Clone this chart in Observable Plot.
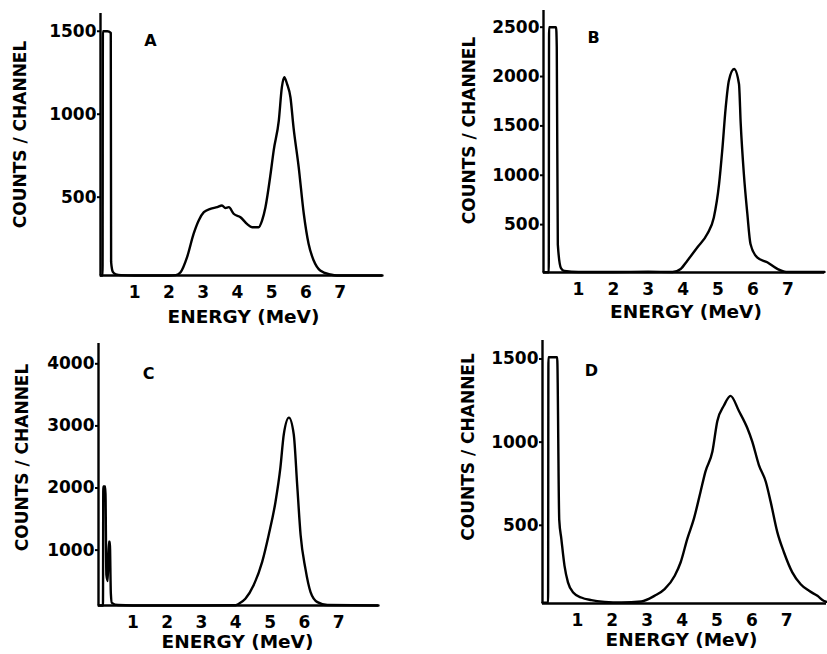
<!DOCTYPE html>
<html><head><meta charset="utf-8">
<script src="https://cdn.jsdelivr.net/npm/d3@7"></script>
<script src="https://cdn.jsdelivr.net/npm/@observablehq/plot@0.6"></script>
<style>
body{margin:0;background:#fff;}
#chart{position:relative;width:827px;height:654px;overflow:hidden;background:#fff;}
.panel{position:absolute;}
</style></head><body><div id="chart"></div>
<script>
// ---- data ----
const panelLetters = ["A", "B", "C", "D"];
const xTicks = [1, 2, 3, 4, 5, 6, 7];
const yTicksA = [500, 1000, 1500];
const yTicksB = [500, 1000, 1500, 2000, 2500];
const yTicksC = [1000, 2000, 3000, 4000];
const yTicksD = [500, 1000, 1500];
const yLabel = "COUNTS / CHANNEL";
const xLabel = "ENERGY (MeV)";

const energyA = [0, 0.06, 0.07, 0.2, 0.3, 0.31, 0.36, 0.45, 0.6, 1.0, 1.5, 2.0, 2.2, 2.34, 2.53, 2.72, 2.87, 3.02, 3.21, 3.41, 3.55, 3.65, 3.75, 3.89, 4.09, 4.28, 4.43, 4.62, 4.72, 4.82, 4.97, 5.06, 5.21, 5.30, 5.37, 5.45, 5.55, 5.64, 5.79, 5.94, 6.08, 6.23, 6.42, 6.72, 6.91, 8.24];
const countsA = [28, 28, 1500, 1500, 1490, 110, 50, 35, 30, 28, 28, 28, 30, 48, 139, 279, 360, 410, 430, 440, 450, 435, 440, 400, 379, 339, 319, 319, 359, 440, 641, 781, 962, 1163, 1223, 1183, 1102, 921, 683, 400, 219, 118, 58, 34, 28, 28];

const energyB = [0, 0.15, 0.16, 0.36, 0.38, 0.41, 0.5, 0.6, 1.0, 2.0, 3.0, 3.7, 3.93, 4.12, 4.41, 4.69, 4.88, 5.03, 5.12, 5.22, 5.31, 5.46, 5.6, 5.65, 5.74, 5.84, 5.93, 6.12, 6.41, 6.70, 6.95, 8.05];
const countsB = [17, 17, 2500, 2500, 2300, 300, 60, 30, 20, 20, 22, 20, 51, 135, 270, 405, 573, 912, 1249, 1688, 1958, 2077, 1925, 1520, 1013, 608, 304, 168, 118, 51, 20, 20];

const energyC = [0, 0.13, 0.14, 0.2, 0.23, 0.27, 0.3, 0.33, 0.36, 0.39, 0.57, 1.0, 2.0, 3.0, 4.0, 4.09, 4.28, 4.52, 4.77, 4.96, 5.16, 5.30, 5.40, 5.55, 5.69, 5.79, 5.89, 6.03, 6.18, 6.38, 6.67, 8.16];
const countsC = [108, 108, 2027, 2027, 600, 500, 1135, 1135, 300, 150, 115, 108, 108, 108, 112, 135, 216, 433, 810, 1243, 1783, 2323, 2864, 3133, 2864, 2053, 1243, 702, 324, 162, 115, 108];

const energyD = [0, 0.16, 0.17, 0.42, 0.48, 0.54, 0.63, 0.73, 0.88, 1.11, 1.40, 1.78, 2.26, 2.83, 3.21, 3.5, 3.79, 3.96, 4.15, 4.34, 4.53, 4.67, 4.87, 5.01, 5.2, 5.39, 5.63, 5.87, 6.01, 6.20, 6.40, 6.54, 6.73, 6.92, 7.16, 7.40, 7.64, 7.88, 8.07, 8.14];
const countsD = [35, 35, 1510, 1510, 533, 419, 258, 157, 96, 66, 50, 40, 36, 42, 76, 116, 197, 278, 419, 540, 702, 823, 944, 1126, 1220, 1278, 1187, 1085, 1005, 864, 762, 641, 459, 338, 217, 146, 106, 76, 45, 40];

// ---- layout ----
const panels = [
  {energy: energyA, counts: countsA, yTicks: yTicksA, yDomain: [28, 1607], xMax: 8.24,
   left: 0, top: 0, width: 414, height: 330, mt: 13, mb: 55, ml: 100, mr: 32,
   letter: [50, 27], ylab: [-80, -10], xlab: [2, 42]},
  {energy: energyB, counts: countsB, yTicks: yTicksB, yDomain: [15, 2669], xMax: 8.05,
   left: 414, top: 0, width: 413, height: 330, mt: 10, mb: 58, ml: 129, mr: 3,
   letter: [50, 27], ylab: [-74, -11], xlab: [2, 40]},
  {energy: energyC, counts: countsC, yTicks: yTicksC, yDomain: [108, 4327], xMax: 8.16,
   left: 0, top: 330, width: 414, height: 324, mt: 13, mb: 49, ml: 98, mr: 36,
   letter: [50, 30], ylab: [-76, -17], xlab: [-1, 37]},
  {energy: energyD, counts: countsD, yTicks: yTicksD, yDomain: [30, 1611], xMax: 8.14,
   left: 414, top: 330, width: 413, height: 324, mt: 10, mb: 51, ml: 128, mr: 1,
   letter: [49, 30], ylab: [-74, -25], xlab: [-3, 37]}
];

const chart = document.getElementById("chart");
panels.forEach((p, i) => {
  const data = p.energy.map((e, j) => ({energy: e, counts: p.counts[j]}));
  const svg = Plot.plot({
    width: p.width, height: p.height,
    marginTop: p.mt, marginBottom: p.mb, marginLeft: p.ml, marginRight: p.mr,
    style: {fontFamily: "'DejaVu Sans', sans-serif", fontWeight: "bold", fontSize: "17px", color: "#000", background: "#fff", overflow: "visible"},
    x: {domain: [0, p.xMax]},
    y: {domain: p.yDomain, clamp: true},
    marks: [
      Plot.axisX({ticks: xTicks, tickSize: 0, tickPadding: 10, tickFormat: d => `${d}`, label: null}),
      Plot.axisY({ticks: p.yTicks, tickSize: 3, tickPadding: 1, tickFormat: d => `${d}`, label: null, strokeWidth: 2}),
      Plot.ruleX([0], {stroke: "#000", strokeWidth: 2.4}),
      Plot.ruleY([p.yDomain[0]], {stroke: "#000", strokeWidth: 2.4}),
      Plot.line(data, {x: "energy", y: "counts", stroke: "#000", strokeWidth: 2.4, strokeLinejoin: "round", curve: "monotone-x"}),
      Plot.text([panelLetters[i]], {text: d => d, frameAnchor: "top-left", textAnchor: "middle", lineAnchor: "middle", dx: p.letter[0], dy: p.letter[1], fontSize: 16}),
      Plot.text([yLabel], {text: d => d, frameAnchor: "left", textAnchor: "middle", lineAnchor: "middle", rotate: -90, dx: p.ylab[0], dy: p.ylab[1], fontSize: 17}),
      Plot.text([xLabel], {text: d => d, frameAnchor: "bottom", textAnchor: "middle", lineAnchor: "middle", dx: p.xlab[0], dy: p.xlab[1], fontSize: 18.5})
    ]
  });
  const div = document.createElement("div");
  div.className = "panel";
  div.style.left = p.left + "px";
  div.style.top = p.top + "px";
  div.appendChild(svg);
  chart.appendChild(div);
});
</script></body></html>
